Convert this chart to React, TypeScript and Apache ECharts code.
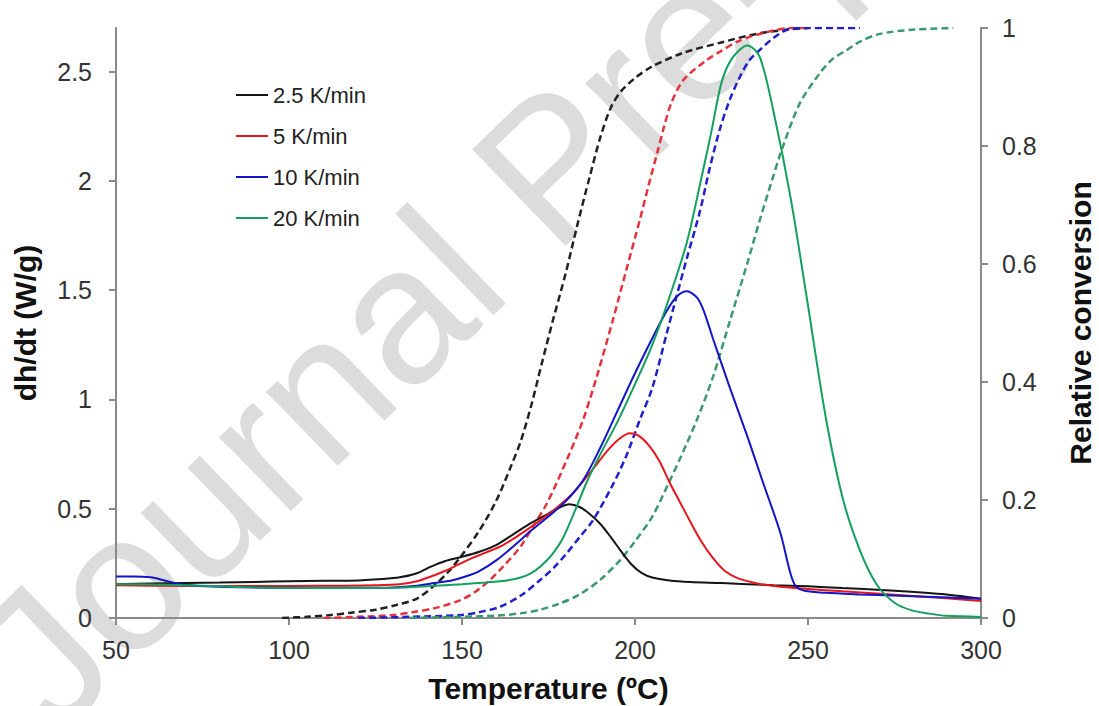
import { useEffect, useRef } from "react";
import * as echarts from "echarts";

// Heat flow dh/dt (W/g) vs temperature (ºC) — solid curves, left axis
const dscRate2_5: number[][] = [
  [50, 0.155], [60, 0.158], [70, 0.16], [80, 0.162], [90, 0.165], [100, 0.168], [110, 0.17], [120, 0.172],
  [127, 0.178], [132, 0.186], [137, 0.205], [141, 0.235], [145, 0.26], [150, 0.28], [155, 0.303], [160, 0.335],
  [165, 0.385], [170, 0.435], [175, 0.478], [178.5, 0.508], [181, 0.52], [184, 0.508], [187, 0.475], [190, 0.43],
  [193, 0.37], [196, 0.305], [199, 0.245], [202, 0.205], [205, 0.185], [210, 0.172], [216, 0.165], [225, 0.16],
  [240, 0.15], [250, 0.145], [260, 0.137], [275, 0.125], [290, 0.108], [300, 0.088],
];
const dscRate5: number[][] = [
  [50, 0.15], [60, 0.148], [70, 0.147], [85, 0.147], [100, 0.147], [115, 0.148], [125, 0.15], [132, 0.155],
  [137, 0.168], [141, 0.19], [145, 0.215], [149, 0.245], [153, 0.275], [157, 0.3], [162, 0.335], [167, 0.385],
  [172, 0.44], [177, 0.5], [182, 0.57], [187, 0.665], [192, 0.765], [195.5, 0.82], [198.5, 0.845], [201, 0.835],
  [204, 0.79], [207, 0.72], [210, 0.62], [213, 0.53], [216, 0.44], [219, 0.355], [222.5, 0.275], [226, 0.215],
  [230, 0.18], [236, 0.156], [242, 0.143], [250, 0.133], [260, 0.122], [275, 0.106], [290, 0.09], [300, 0.078],
];
const dscRate10: number[][] = [
  [50, 0.19], [55, 0.19], [60, 0.186], [64, 0.172], [68, 0.157], [73, 0.148], [80, 0.143], [90, 0.14],
  [100, 0.138], [120, 0.138], [130, 0.14], [137, 0.148], [142, 0.16], [147, 0.172], [151, 0.19], [155, 0.215],
  [160, 0.265], [165, 0.33], [170, 0.4], [175, 0.465], [180, 0.535], [185, 0.63], [190, 0.78], [195, 0.95],
  [200, 1.12], [205, 1.28], [209, 1.4], [212, 1.47], [215, 1.495], [218, 1.465], [220, 1.4], [222.5, 1.28],
  [227.5, 1.05], [232.5, 0.83], [237, 0.62], [242, 0.39], [245, 0.2], [246.5, 0.145], [249, 0.125],
  [255, 0.115], [265, 0.108], [280, 0.1], [300, 0.088],
];
const dscRate20: number[][] = [
  [50, 0.155], [60, 0.153], [70, 0.15], [80, 0.145], [90, 0.14], [100, 0.138], [115, 0.137], [130, 0.138],
  [140, 0.145], [150, 0.155], [157, 0.163], [163, 0.172], [167, 0.185], [170, 0.205], [173, 0.24], [176, 0.29],
  [179, 0.36], [182, 0.466], [186, 0.62], [190, 0.75], [195, 0.9], [200, 1.07], [205, 1.25], [210, 1.47],
  [215, 1.72], [219, 2.0], [222, 2.22], [225, 2.45], [228, 2.56], [232.5, 2.62], [236, 2.57], [240, 2.32],
  [245, 1.92], [250, 1.43], [255, 0.93], [260, 0.55], [265, 0.31], [270, 0.15], [275, 0.07], [280, 0.035],
  [285, 0.02], [290, 0.01], [300, 0.005],
];

// Relative conversion vs temperature — dashed curves, right axis
const convRate2_5: number[][] = [
  [98, 0], [105, 0.002], [112, 0.005], [118, 0.009], [125, 0.014], [131, 0.022], [137, 0.033], [142, 0.055],
  [146, 0.078], [149.5, 0.103], [155, 0.148], [160, 0.2], [164, 0.255], [167, 0.3], [170, 0.36], [173, 0.43],
  [176.3, 0.505], [180, 0.585], [183.2, 0.663], [187, 0.75], [190, 0.815], [193, 0.865], [196, 0.893],
  [200, 0.915], [205, 0.935], [214, 0.958], [224.6, 0.975], [235, 0.99], [245, 0.998], [250, 1],
];
const convRate5: number[][] = [
  [110, 0], [120, 0.002], [130, 0.005], [136, 0.01], [143, 0.018], [149.4, 0.03], [154, 0.045], [158, 0.064],
  [162, 0.088], [166.8, 0.12], [170.5, 0.155], [174.6, 0.195], [180.3, 0.268], [185, 0.336], [189, 0.41],
  [193.6, 0.505], [197.5, 0.59], [201.4, 0.675], [204, 0.735], [206.4, 0.788], [208.5, 0.835], [210.5, 0.873],
  [214, 0.912], [220.8, 0.946], [224.6, 0.96], [230, 0.978], [238, 0.993], [245, 1], [250, 1],
];
const convRate10: number[][] = [
  [120, 0], [135, 0.002], [149.4, 0.005], [155, 0.01], [161, 0.019], [167, 0.038], [172.5, 0.064],
  [176.5, 0.085], [180.3, 0.11], [184, 0.137], [187.9, 0.166], [193.6, 0.226], [197.5, 0.275], [201.4, 0.336],
  [205, 0.39], [209.2, 0.483], [212, 0.545], [215, 0.61], [218.8, 0.69], [221.5, 0.76], [224.6, 0.83],
  [227.5, 0.88], [230.3, 0.917], [233, 0.945], [236.1, 0.963], [240, 0.983], [244, 0.997], [250, 1], [265, 1],
];
const convRate20: number[][] = [
  [135, 0], [150, 0.002], [160, 0.004], [167, 0.008], [172.5, 0.014], [178, 0.024], [184, 0.04], [190, 0.065],
  [195.7, 0.098], [200, 0.13], [205, 0.172], [210, 0.232], [213, 0.27], [217.9, 0.336], [222.5, 0.408],
  [227.5, 0.505], [232.4, 0.6], [236.1, 0.675], [239.5, 0.74], [242.8, 0.8], [247.7, 0.873], [253.5, 0.924],
  [257, 0.947], [261.3, 0.963], [265, 0.977], [270.8, 0.99], [280, 0.997], [292, 1],
];

const seriesNames = ["2.5 K/min", "5 K/min", "10 K/min", "20 K/min"];
const solidColors = ["#141414", "#e8161c", "#1414c8", "#12a05e"];
const dashColors = ["#222222", "#e6323c", "#2020cc", "#3a9a6c"];
const dscData = [dscRate2_5, dscRate5, dscRate10, dscRate20];
const convData = [convRate2_5, convRate5, convRate10, convRate20];

const leftTicks = [0, 0.5, 1, 1.5, 2, 2.5];

const FONT = "'Liberation Sans', Arial, sans-serif";
const AXIS_GRAY = "#8a8a8a";

export default function App() {
  const ref = useRef<HTMLDivElement>(null);

  useEffect(() => {
    if (!ref.current) return;
    const chart = echarts.init(ref.current, null, { renderer: "svg" });

    const solidSeries = seriesNames.map((name, i) => ({
      name,
      type: "line",
      yAxisIndex: 0,
      data: dscData[i],
      showSymbol: false,
      symbol: "none",
      smooth: 0.3,
      z: 4,
      lineStyle: { color: solidColors[i], width: 2 },
      itemStyle: { color: solidColors[i] },
    }));
    const dashSeries = seriesNames.map((name, i) => ({
      name: name + " conversion",
      type: "line",
      yAxisIndex: 1,
      data: convData[i],
      showSymbol: false,
      symbol: "none",
      smooth: 0.3,
      z: 3,
      lineStyle: { color: dashColors[i], width: 2.5, type: [7, 4] },
      itemStyle: { color: dashColors[i] },
    }));

    const titleStyle = { fontSize: 30, fontWeight: "bold", color: "#111", fontFamily: FONT };

    chart.setOption({
      animation: false,
      backgroundColor: "#ffffff",
      textStyle: { fontFamily: FONT },
      graphic: [
        {
          type: "text",
          x: 8,
          y: 690,
          rotation: (44 * Math.PI) / 180,
          z: -10,
          silent: true,
          style: {
            text: "Journal Pre-proof",
            fill: "#dcdcdc",
            fontSize: 195,
            fontFamily: FONT,
            align: "left",
            verticalAlign: "middle",
          },
        },
      ],
      grid: {
        left: 116,
        right: 118,
        top: 28,
        bottom: 88,
        containLabel: false,
        outerBoundsMode: "none",
      },
      legend: {
        data: seriesNames,
        orient: "vertical",
        left: 231,
        top: 79,
        itemWidth: 32,
        itemHeight: 2,
        itemGap: 19,
        icon: "rect",
        textStyle: { fontSize: 22, color: "#222", fontFamily: FONT, lineHeight: 22 },
      },
      xAxis: {
        type: "value",
        min: 50,
        max: 300,
        interval: 50,
        name: "Temperature (ºC)",
        nameLocation: "middle",
        nameGap: 55,
        nameTextStyle: titleStyle,
        axisLine: { show: true, lineStyle: { color: AXIS_GRAY, width: 2 } },
        axisTick: { show: true, inside: false, length: 7, lineStyle: { color: AXIS_GRAY, width: 2 } },
        axisLabel: { fontSize: 25, color: "#333", margin: 19, fontFamily: FONT },
        splitLine: { show: false },
      },
      yAxis: [
        {
          type: "value",
          position: "left",
          min: 0,
          max: 2.7,
          name: "dh/dt (W/g)",
          nameLocation: "middle",
          nameGap: 76,
          nameTextStyle: titleStyle,
          axisLine: { show: true, lineStyle: { color: AXIS_GRAY, width: 2 } },
          axisTick: { show: true, length: 7, customValues: leftTicks, lineStyle: { color: AXIS_GRAY, width: 2 } },
          axisLabel: { fontSize: 25, color: "#333", margin: 24, customValues: leftTicks, fontFamily: FONT },
          splitLine: { show: false },
        },
        {
          type: "value",
          position: "right",
          min: 0,
          max: 1,
          interval: 0.2,
          name: "Relative conversion",
          nameLocation: "middle",
          nameGap: 84,
          nameTextStyle: titleStyle,
          axisLine: { show: true, lineStyle: { color: AXIS_GRAY, width: 2 } },
          axisTick: { show: true, length: 7, lineStyle: { color: AXIS_GRAY, width: 2 } },
          axisLabel: { fontSize: 25, color: "#333", margin: 21, fontFamily: FONT },
          splitLine: { show: false },
        },
      ],
      series: [...dashSeries, ...solidSeries],
    });

    return () => chart.dispose();
  }, []);

  return (
    <div
      ref={ref}
      style={{ position: "fixed", left: 0, top: 0, width: 1099, height: 706, background: "#fff" }}
    />
  );
}
